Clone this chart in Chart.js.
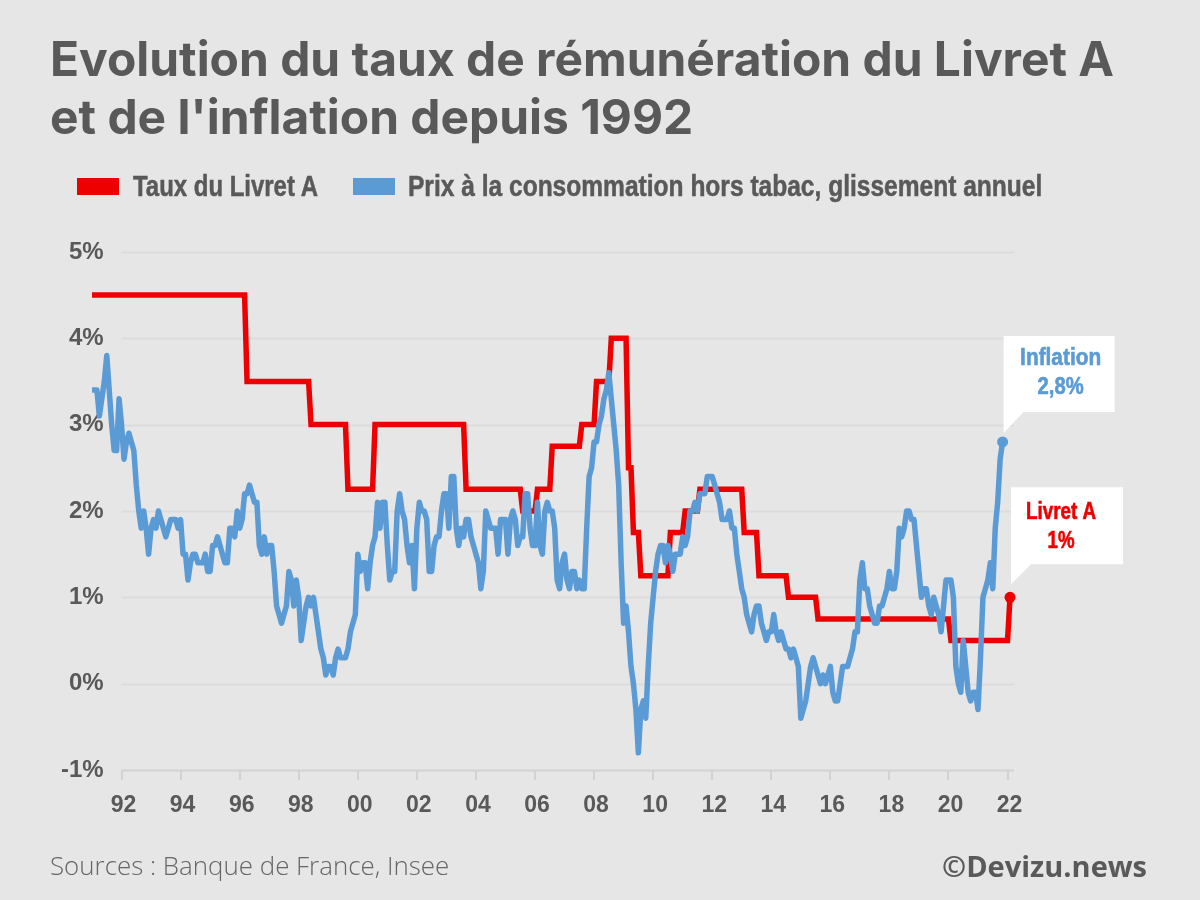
<!DOCTYPE html>
<html>
<head>
<meta charset="utf-8">
<style>
  body { margin: 0; background: #e6e6e6; }
  #wrap { position: relative; width: 1200px; height: 900px; overflow: hidden; }
  .note { position: absolute; color: #666; white-space: nowrap; }
  .swatch { position: absolute; top: 178px; width: 42px; height: 17px; }
  .leg { position: absolute; top: 169px; color: #595959; white-space: nowrap; transform-origin: left center;
         font: 700 29px/34px 'Liberation Sans'; -webkit-text-stroke: 0.5px #595959; }
</style>
<script src="https://cdn.jsdelivr.net/npm/chart.js@4"></script>
</head>
<body>
<div id="wrap">
  <canvas id="chart" width="1200" height="900"></canvas>
  <div id="legend"></div>
  <div class="note" style="left:50px;top:847px;font:300 25.9px 'Open Sans'">Sources : Banque de France, Insee</div>
  <div class="note" style="right:53px;top:846px;font:700 29px 'Open Sans';color:#595959">©Devizu.news</div>
</div>
<script>
// months from 1991-01 to 2022-02
const months = [];
for (let y = 1991; y <= 2022; y++) {
  for (let m = 1; m <= 12; m++) {
    if (y === 2022 && m > 2) break;
    months.push(y + "-" + String(m).padStart(2, "0"));
  }
}
const tickYears = ["1992","1994","1996","1998","2000","2002","2004","2006","2008","2010","2012","2014","2016","2018","2020","2022"];
const yTicks = [-1, 0, 1, 2, 3, 4, 5];

const livretA = [
  4.5,4.5,4.5,4.5,4.5,4.5,4.5,4.5,4.5,4.5,4.5,4.5,
  4.5,4.5,4.5,4.5,4.5,4.5,4.5,4.5,4.5,4.5,4.5,4.5,
  4.5,4.5,4.5,4.5,4.5,4.5,4.5,4.5,4.5,4.5,4.5,4.5,
  4.5,4.5,4.5,4.5,4.5,4.5,4.5,4.5,4.5,4.5,4.5,4.5,
  4.5,4.5,4.5,4.5,4.5,4.5,4.5,4.5,4.5,4.5,4.5,4.5,
  4.5,4.5,4.5,3.5,3.5,3.5,3.5,3.5,3.5,3.5,3.5,3.5,
  3.5,3.5,3.5,3.5,3.5,3.5,3.5,3.5,3.5,3.5,3.5,3.5,
  3.5,3.5,3.5,3.5,3.5,3,3,3,3,3,3,3,
  3,3,3,3,3,3,3,3,2.25,2.25,2.25,2.25,
  2.25,2.25,2.25,2.25,2.25,2.25,2.25,3,3,3,3,3,
  3,3,3,3,3,3,3,3,3,3,3,3,
  3,3,3,3,3,3,3,3,3,3,3,3,
  3,3,3,3,3,3,3,3,2.25,2.25,2.25,2.25,
  2.25,2.25,2.25,2.25,2.25,2.25,2.25,2.25,2.25,2.25,2.25,2.25,
  2.25,2.25,2.25,2.25,2.25,2.25,2.25,2,2,2,2,2,
  2,2.25,2.25,2.25,2.25,2.25,2.25,2.75,2.75,2.75,2.75,2.75,
  2.75,2.75,2.75,2.75,2.75,2.75,2.75,3,3,3,3,3,
  3,3.5,3.5,3.5,3.5,3.5,3.5,4,4,4,4,4,
  4,4,2.5,2.5,1.75,1.75,1.75,1.25,1.25,1.25,1.25,1.25,
  1.25,1.25,1.25,1.25,1.25,1.25,1.25,1.75,1.75,1.75,1.75,1.75,
  1.75,2,2,2,2,2,2,2.25,2.25,2.25,2.25,2.25,
  2.25,2.25,2.25,2.25,2.25,2.25,2.25,2.25,2.25,2.25,2.25,2.25,
  2.25,1.75,1.75,1.75,1.75,1.75,1.75,1.25,1.25,1.25,1.25,1.25,
  1.25,1.25,1.25,1.25,1.25,1.25,1.25,1,1,1,1,1,
  1,1,1,1,1,1,1,0.75,0.75,0.75,0.75,0.75,
  0.75,0.75,0.75,0.75,0.75,0.75,0.75,0.75,0.75,0.75,0.75,0.75,
  0.75,0.75,0.75,0.75,0.75,0.75,0.75,0.75,0.75,0.75,0.75,0.75,
  0.75,0.75,0.75,0.75,0.75,0.75,0.75,0.75,0.75,0.75,0.75,0.75,
  0.75,0.75,0.75,0.75,0.75,0.75,0.75,0.75,0.75,0.75,0.75,0.75,
  0.75,0.5,0.5,0.5,0.5,0.5,0.5,0.5,0.5,0.5,0.5,0.5,
  0.5,0.5,0.5,0.5,0.5,0.5,0.5,0.5,0.5,0.5,0.5,0.5,
  0.5,1
];

const inflation = [
  3.4,3.4,3.4,3.1,3.3,3.5,3.8,3.4,3.0,2.7,2.7,3.3,
  3.0,2.6,2.8,2.9,2.8,2.7,2.3,2.0,1.8,2.0,1.8,1.5,
  1.8,1.9,1.8,2.0,1.9,1.8,1.7,1.8,1.9,1.9,1.9,1.8,
  1.9,1.5,1.5,1.2,1.4,1.5,1.5,1.4,1.4,1.4,1.5,1.3,
  1.3,1.6,1.6,1.7,1.6,1.5,1.4,1.4,1.8,1.8,1.7,2.0,
  1.8,1.9,2.2,2.2,2.3,2.2,2.1,2.1,1.6,1.5,1.7,1.5,
  1.6,1.6,1.3,0.9,0.8,0.7,0.8,0.9,1.3,1.2,0.9,1.2,
  1.0,0.5,0.7,0.9,1.0,0.9,1.0,0.8,0.6,0.4,0.3,0.1,
  0.2,0.2,0.1,0.3,0.4,0.3,0.3,0.3,0.4,0.6,0.7,0.8,
  1.5,1.3,1.4,1.4,1.1,1.4,1.6,1.7,2.1,1.8,2.1,2.1,
  1.6,1.2,1.3,1.3,2.0,2.2,2.0,1.9,1.6,1.4,1.6,1.1,
  1.8,2.1,2.0,2.0,1.9,1.3,1.3,1.6,1.7,1.7,2.0,2.2,
  2.2,1.8,2.4,2.4,1.8,1.6,1.8,1.7,1.9,1.9,1.7,1.6,
  1.5,1.4,1.1,1.3,2.0,1.9,1.8,1.8,1.8,1.5,1.9,1.9,
  1.9,1.5,1.9,2.0,1.9,1.6,1.7,1.7,2.2,2.2,1.8,1.6,
  1.6,2.1,1.6,1.5,2.0,2.1,2.0,2.0,1.8,1.2,1.1,1.4,
  1.5,1.2,1.1,1.3,1.3,1.1,1.2,1.1,1.1,1.8,2.4,2.5,
  2.8,2.8,3.0,3.1,3.3,3.4,3.6,3.3,3.0,2.7,2.3,1.4,
  0.7,0.9,0.6,0.2,0.0,-0.3,-0.8,-0.3,-0.2,-0.4,0.2,0.7,
  1.0,1.3,1.5,1.6,1.6,1.4,1.6,1.5,1.3,1.5,1.5,1.5,
  1.7,1.6,1.7,2.0,2.0,2.1,2.0,2.2,2.2,2.2,2.4,2.4,
  2.4,2.3,2.2,2.1,1.9,1.9,1.9,2.0,1.8,1.8,1.5,1.3,
  1.1,1.0,0.8,0.7,0.6,0.8,0.9,0.9,0.7,0.6,0.5,0.6,
  0.6,0.8,0.6,0.5,0.6,0.5,0.4,0.4,0.3,0.4,0.3,0.2,
  -0.4,-0.3,-0.2,0.0,0.2,0.3,0.2,0.1,0.0,0.1,0.0,0.1,
  0.2,-0.1,-0.2,-0.2,0.0,0.2,0.2,0.2,0.3,0.4,0.6,0.6,
  1.2,1.4,1.1,1.1,0.9,0.8,0.7,0.7,0.9,0.9,1.0,1.1,
  1.3,1.1,1.1,1.3,1.8,1.7,1.8,2.0,2.0,1.9,1.9,1.6,
  1.3,1.0,1.1,1.1,0.9,0.8,1.0,0.9,0.8,0.6,0.9,1.2,
  1.2,1.2,1.0,0.2,0.0,-0.1,0.5,0.2,-0.1,-0.2,-0.1,-0.1,
  -0.3,0.3,1.0,1.1,1.2,1.4,1.1,1.8,2.1,2.6,2.8,null,
  null,null
];

const RED = "#ee0000";
const BLUE = "#5b9bd5";
const GREY = "#595959";
const lastRed = livretA.length - 1;
const lastBlue = inflation.lastIndexOf(2.8);

// grid lines start at the 92 tick while the series begins earlier
const gridPlugin = {
  id: "grid",
  beforeDatasetsDraw(chart) {
    const { ctx, scales } = chart;
    const x0 = scales.x.getPixelForValue(months.indexOf("1992-01"));
    const x1 = chart.chartArea.right + 4;
    ctx.save();
    yTicks.forEach((t) => {
      const y = Math.round(scales.y.getPixelForValue(t)) + 0.5;
      ctx.strokeStyle = t === -1 ? "#d2d2d2" : "#dcdcdc";
      ctx.lineWidth = 2;
      ctx.beginPath();
      ctx.moveTo(x0, y);
      ctx.lineTo(x1, y);
      ctx.stroke();
    });
    ctx.restore();
  },
};

// white speech box above a point; text squeezed to the narrow look with maxWidth
function callout(ctx, px, py, box, color, lines) {
  const top = py + box.dy;
  ctx.fillStyle = "#fff";
  ctx.beginPath();
  ctx.moveTo(px, py - box.gap);
  ctx.lineTo(px, top);
  ctx.lineTo(px + box.w, top);
  ctx.lineTo(px + box.w, top + box.h);
  ctx.lineTo(px + 20, top + box.h);
  ctx.closePath();
  ctx.fill();
  ctx.fillStyle = color;
  ctx.strokeStyle = color;
  ctx.lineWidth = 0.6;
  ctx.font = "700 23px 'Liberation Sans'";
  ctx.textAlign = "center";
  ctx.textBaseline = "middle";
  lines.forEach((l, i) => {
    ctx.fillText(l.text, px + box.cx, top + box.ty + i * 29, l.w);
    ctx.strokeText(l.text, px + box.cx, top + box.ty + i * 29, l.w);
  });
}

const calloutPlugin = {
  id: "callouts",
  afterDatasetsDraw(chart) {
    const { ctx, scales } = chart;
    ctx.save();
    callout(ctx, scales.x.getPixelForValue(lastBlue) + 1, scales.y.getPixelForValue(2.8),
      { dy: -106, w: 111, h: 76, gap: 9, cx: 57, ty: 23 }, BLUE,
      [{ text: "Inflation", w: 81 }, { text: "2,8%", w: 46 }]);
    callout(ctx, scales.x.getPixelForValue(lastRed) + 1, scales.y.getPixelForValue(1),
      { dy: -110, w: 112, h: 77, gap: 13, cx: 50, ty: 25 }, RED,
      [{ text: "Livret A", w: 70 }, { text: "1%", w: 27 }]);
    ctx.restore();
  },
};

const chart = new Chart(document.getElementById("chart"), {
  type: "line",
  plugins: [gridPlugin, calloutPlugin],
  data: {
    labels: months,
    datasets: [
      {
        label: "Taux du Livret A",
        data: livretA,
        borderColor: RED,
        backgroundColor: RED,
        borderWidth: 5.5,
        tension: 0,
        order: 2,
        clip: false,
        pointRadius: (c) => (c.dataIndex === lastRed ? 5.5 : 0),
        pointBackgroundColor: RED,
        pointBorderWidth: 0,
      },
      {
        label: "Prix à la consommation hors tabac, glissement annuel",
        data: inflation,
        borderColor: BLUE,
        backgroundColor: BLUE,
        borderWidth: 5.5,
        tension: 0,
        order: 1,
        clip: false,
        borderJoinStyle: "round",
        pointRadius: (c) => (c.dataIndex === lastBlue ? 5.5 : 0),
        pointBackgroundColor: BLUE,
        pointBorderWidth: 0,
      },
    ],
  },
  options: {
    responsive: false,
    animation: false,
    layout: { padding: { left: 50, right: 40, top: 33, bottom: 70 } },
    plugins: {
      title: {
        display: true,
        align: "start",
        text: ["Evolution du taux de rémunération du Livret A", "et de l'inflation depuis 1992"],
        color: GREY,
        font: { family: "Inter", size: 47.9, weight: "700", lineHeight: 1.21 },
        padding: { top: 0, bottom: 103 },
      },
      legend: { display: false },
      tooltip: { enabled: false },
    },
    scales: {
      x: {
        type: "category",
        offset: false,
        grid: { drawOnChartArea: false, drawTicks: true, tickLength: 10, color: "#d2d2d2", lineWidth: 2 },
        border: { display: false },
        ticks: {
          autoSkip: false,
          maxRotation: 0,
          color: GREY,
          padding: 12,
          labelOffset: 2,
          font: { family: "'Liberation Sans'", size: 23, weight: "700" },
          callback(v) {
            return this.getLabelForValue(v).slice(2, 4);
          },
        },
        afterBuildTicks(s) {
          s.ticks = s.ticks.filter((t) => {
            const l = s.getLabelForValue(t.value);
            return l.endsWith("-01") && tickYears.includes(l.slice(0, 4));
          });
        },
        afterFit(s) {
          s.height = 60;
        },
      },
      y: {
        min: -1,
        max: 5,
        grid: { display: false },
        border: { display: false },
        ticks: {
          stepSize: 1,
          mirror: true,
          crossAlign: "far",
          padding: -31,
          color: GREY,
          font: { family: "'Liberation Sans'", size: 24, weight: "700" },
          callback: (v) => v + "%",
        },
        afterFit(s) {
          s.width = 42;
        },
      },
      // empty scale, keeps room for the two callouts right of the plot
      gutter: {
        axis: "y",
        position: "right",
        grid: { display: false },
        border: { display: false },
        ticks: { display: false },
        afterFit(s) {
          s.width = 150;
        },
      },
    },
  },
});

// html legend built from the datasets: left edge and width of each entry
const legendSlots = [
  { swatch: 77, text: 133, width: 185 },
  { swatch: 353, text: 408, width: 634 },
];
const legendBox = document.getElementById("legend");
chart.data.datasets.forEach((ds, i) => {
  const s = document.createElement("div");
  s.className = "swatch";
  s.style.left = legendSlots[i].swatch + "px";
  s.style.background = ds.backgroundColor;
  legendBox.appendChild(s);
  const t = document.createElement("div");
  t.className = "leg";
  t.textContent = ds.label;
  t.style.left = legendSlots[i].text + "px";
  legendBox.appendChild(t);
  t.style.transform = "scaleX(" + legendSlots[i].width / t.offsetWidth + ")";
});
</script>
</body>
</html>
